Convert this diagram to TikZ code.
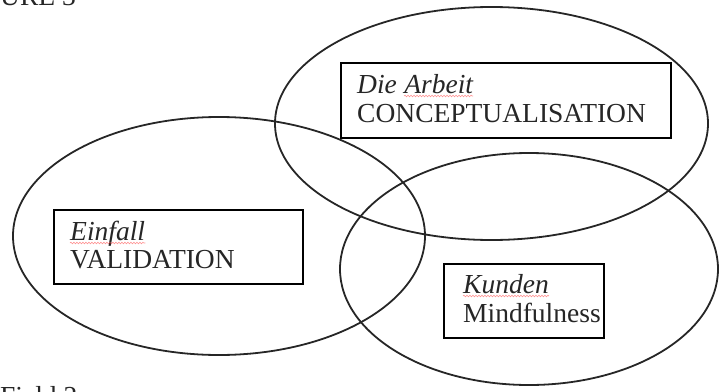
\documentclass[tikz,border=0pt]{standalone}
\usepackage{fontspec}
\setmainfont{Liberation Serif}
\usetikzlibrary{decorations.pathmorphing}
\begin{document}
\begin{tikzpicture}[x=1pt,y=-1pt,
  ell/.style={draw=black!85,line width=1.8pt},
  boxst/.style={draw=black,line width=2.4pt,fill=white,inner sep=0pt,anchor=north west},
  lbl/.style={inner sep=0pt,anchor=base west,font=\fontsize{27.5}{30}\selectfont,text=black!85},
  ilbl/.style={lbl,font=\fontsize{27.5}{30}\selectfont\itshape},
  squig/.style={draw=red!70,line width=0.6pt,opacity=0.6,decorate,decoration={snake,amplitude=0.8pt,segment length=3pt}}]
\useasboundingbox (0,0) rectangle (723,391);
\clip (0,0) rectangle (723,391);
% ellipses
\draw[ell] (491.5,123.5) ellipse [x radius=216.5pt, y radius=116.5pt];
\draw[ell] (219,236) ellipse [x radius=206pt, y radius=119pt];
\draw[ell] (529,269) ellipse [x radius=189pt, y radius=116pt];
% boxes
\node[boxst,minimum width=330pt,minimum height=75pt] (b1) at (340,62) {};
\node[boxst,minimum width=249pt,minimum height=74pt] (b2) at (53,209) {};
\node[boxst,minimum width=160pt,minimum height=74pt] (b3) at (443,263) {};
% texts
\node[ilbl] (t1a) at (357,93) {Die};
\node[ilbl,anchor=base west] (t1b) at ([xshift=7pt]t1a.base east) {Arbeit};
\node[lbl] (t1c) at (357,122) {CONCEPTUALISATION};
\node[ilbl] (t2a) at (70,240) {Einfall};
\node[lbl] (t2b) at (70,268) {VALIDATION};
\node[ilbl] (t3a) at (463,293) {Kunden};
\node[lbl] (t3b) at (463,322) {Mindfulness};
\draw[squig] ([yshift=-3pt]t1b.base west) -- ([yshift=-3pt]t1b.base east);
\draw[squig] ([yshift=-3pt]t2a.base west) -- ([yshift=-3pt]t2a.base east);
\draw[squig] ([yshift=-3pt]t3a.base west) -- ([yshift=-3pt]t3a.base east);
% clipped fragments at the edges
\node[lbl] (top) at (0,5) {URE 3};
\node[lbl] (bot) at (0,405) {Field 2};
\end{tikzpicture}
\end{document}
